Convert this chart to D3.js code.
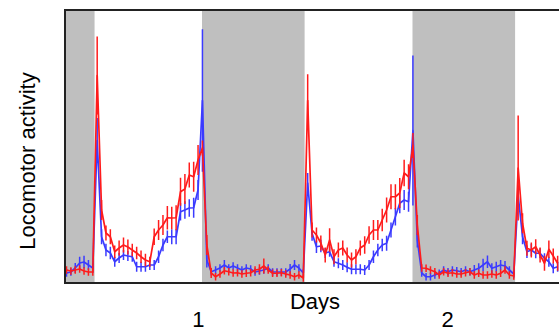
<!DOCTYPE html>
<html>
<head>
<meta charset="utf-8">
<script src="https://cdn.jsdelivr.net/npm/d3@7"></script>
<style>
  body { margin: 0; background: #fff; }
  svg { display: block; }
  text { font-family: "Liberation Sans", Arial, sans-serif; fill: #000; }
</style>
</head>
<body>
<div id="chart"></div>
<script>
// time grid: 30 min bins, first bin centred at -3.25 h (ZT)
var firstBin = -3.25,
    binHours = 0.5;

// dark phases (hours), light off -> light on
var nights = [[-3.42, -0.05], [12.2, 23.9], [36.2, 47.9]];

// day tick labels and where they sit (hours)
var dayLabels = ["1", "2"],
    dayLabelHours = [11.8, 40.2];

// red group, mean activity per bin
var redDark0 = [5.2, 4.8, 5.2, 5.6, 4.8, 4.4, 4.4],
    redLight1 = [83, 29.2, 20, 18.5, 12.5, 14, 15.2, 14.4, 13.2, 12, 10.5, 9.2, 8.5, 18.5, 21.2, 23.2, 26.1, 26, 26.1, 36.5, 37.6, 43.2, 42.5, 49.2],
    redDark1 = [54, 15.2, 4, 2.5, 3.6, 4.9, 4.5, 4, 4.1, 3.6, 3.9, 4.1, 5.2, 5.5, 6.8, 5.2, 3.9, 3.9, 4.1, 3.6, 3.2, 2.5, 3.2, 2],
    redLight2 = [73, 21.2, 19.2, 16, 11.2, 17.2, 10.5, 13.2, 14, 11.2, 9.2, 10.5, 14, 15.2, 19.2, 21.2, 21.2, 25.2, 29.2, 34.5, 34.5, 36, 44, 42.5],
    redDark2 = [55, 23.2, 6, 5.9, 5.2, 4.5, 3.2, 4.5, 3.9, 4.1, 3.6, 3.6, 4.1, 4.5, 3.2, 3.9, 3.2, 3.2, 3.6, 3.2, 3.9, 5.2, 3.2, 2.8],
    redLight3 = [46, 23.9, 13.9, 13.2, 14.5, 11.2, 7.9, 13.5, 10.8, 7.9];

// red group, SEM
var redSemDark0 = [1.5, 1.5, 1.5, 1.5, 1.5, 1.5, 1.5],
    redSemLight1 = [15.6, 4, 3, 3, 2.5, 3, 3, 3, 2.5, 2.5, 2.5, 2.5, 2, 3.3, 4, 4, 4.7, 4.5, 5, 5.6, 6, 5, 6, 6],
    redSemDark1 = [3, 4, 2, 1.5, 1.5, 1.5, 1.5, 1.5, 1.5, 1.5, 1.5, 1.5, 1.5, 2, 3, 1.5, 1.5, 1.5, 1.5, 1.5, 1.5, 1.5, 1.5, 1.5],
    redSemLight2 = [10.5, 3, 3, 3, 3, 4.7, 3, 3, 3, 3, 3, 3, 3, 3.5, 3.5, 4, 4, 4.5, 5, 5, 5, 6, 5.3, 5],
    redSemDark2 = [5, 4, 1.5, 1.5, 1.5, 1.5, 1.5, 1.5, 1.5, 1.5, 1.5, 1.5, 1.5, 1.5, 1.5, 1.5, 1.5, 1.5, 1.5, 1.5, 1.5, 1.5, 1.5, 1.5],
    redSemLight3 = [21, 4, 3, 3, 3, 3, 3, 3.5, 3, 3];

// blue group, mean activity per bin
var blueDark0 = [4, 4.4, 6, 8, 8.4, 7.2, 6],
    blueLight1 = [57, 18.5, 13.2, 12, 8.5, 10, 11.2, 10.8, 10.5, 6.5, 6.5, 6.5, 7.2, 7.2, 10.5, 15.2, 18.5, 18.5, 18.5, 28.5, 29.2, 30, 30.1, 37.2],
    blueDark1 = [73, 9.2, 4.5, 5.2, 6, 7.2, 6, 6.8, 6, 5.2, 6, 5.6, 4.4, 4.8, 5.2, 6, 4.4, 4.4, 4.4, 4.4, 5.6, 7.2, 6, 4],
    blueLight2 = [40, 19.9, 14.5, 14.8, 12, 12.5, 8.5, 7.9, 7.2, 6.3, 5.5, 5.5, 5.5, 5.2, 7.2, 10.5, 13.2, 15.2, 15.9, 21.2, 26.5, 31.9, 33.2, 32.5],
    blueDark2 = [61, 17.2, 4, 2.5, 2.5, 3.2, 3.9, 5.2, 4.5, 5.2, 4.9, 4.5, 5.2, 4.5, 5.2, 5.9, 7.2, 8.5, 5.9, 6.5, 7.2, 6.8, 5.2, 3.6],
    blueLight3 = [35, 18.5, 12.5, 13.2, 11.9, 11.9, 9.9, 8.5, 5.9, 6.5];

// blue group, SEM
var blueSemDark0 = [1.5, 1.5, 2, 2.5, 2.5, 2, 2],
    blueSemLight1 = [9, 3, 2.5, 2.5, 2, 2, 2, 2, 2, 2, 2, 2, 2, 2, 2.5, 2.5, 2.5, 3, 3, 3.5, 3.5, 3.5, 4, 4],
    blueSemDark1 = [28.5, 3, 1.5, 1.5, 1.5, 2, 1.5, 1.5, 1.5, 1.5, 1.5, 1.5, 1.5, 1.5, 1.5, 1.5, 1.5, 1.5, 1.5, 1.5, 2, 2, 1.5, 1.5],
    blueSemLight2 = [4, 3, 2.5, 2.5, 2, 2, 2, 2, 2, 2, 2, 2, 2, 2, 2, 2.5, 2.5, 2.5, 3, 3, 3.5, 4, 4, 4],
    blueSemDark2 = [30, 3, 1.5, 1.5, 1.5, 1.5, 1.5, 1.5, 1.5, 1.5, 1.5, 1.5, 1.5, 1.5, 2, 2, 2.5, 2.5, 2, 2, 2, 2, 1.5, 1.5],
    blueSemLight3 = [4, 3, 2.5, 2.5, 2, 2, 2, 2, 2, 2];

var redMean = [].concat(redDark0, redLight1, redDark1, redLight2, redDark2, redLight3),
    redSem = [].concat(redSemDark0, redSemLight1, redSemDark1, redSemLight2, redSemDark2, redSemLight3),
    blueMean = [].concat(blueDark0, blueLight1, blueDark1, blueLight2, blueDark2, blueLight3),
    blueSem = [].concat(blueSemDark0, blueSemLight1, blueSemDark1, blueSemLight2, blueSemDark2, blueSemLight3);

var width = 559,
    height = 332,
    plot = { left: 65, top: 10, right: 570, bottom: 283 };

var x = d3.scaleLinear().domain([-3.42, 54.16]).range([plot.left, plot.right]),
    y = d3.scaleLinear().domain([0, 110]).range([plot.bottom, plot.top - 2]);

function toPoints(means, sems) {
    return means.map(function (m, i) {
        return { hour: firstBin + i * binHours, mean: m, sem: sems[i] || 0 };
    });
}

var series = [
    { name: "blue", color: "#3b3bff", points: toPoints(blueMean, blueSem) },
    { name: "red", color: "#ff1c1c", points: toPoints(redMean, redSem) }
];

var svg = d3.select("#chart").append("svg")
    .attr("width", width)
    .attr("height", height);

svg.append("clipPath").attr("id", "plotclip")
    .append("rect")
    .attr("x", plot.left)
    .attr("y", plot.top)
    .attr("width", plot.right - plot.left)
    .attr("height", plot.bottom - plot.top);

var g = svg.append("g").attr("clip-path", "url(#plotclip)");

// night shading
g.selectAll(".night")
    .data(nights)
    .enter().append("rect")
    .attr("class", "night")
    .attr("x", function (d) { return x(d[0]); })
    .attr("y", plot.top)
    .attr("width", function (d) { return x(d[1]) - x(d[0]); })
    .attr("height", plot.bottom - plot.top)
    .style("fill", "#bfbfbf");

var line = d3.line()
    .x(function (d) { return x(d.hour); })
    .y(function (d) { return y(d.mean); });

var groups = g.selectAll(".series")
    .data(series)
    .enter().append("g")
    .attr("class", "series");

// error bars
groups.selectAll(".err")
    .data(function (s) { return s.points.map(function (p) { p.color = s.color; return p; }); })
    .enter().append("line")
    .attr("class", "err")
    .attr("x1", function (d) { return x(d.hour); })
    .attr("x2", function (d) { return x(d.hour); })
    .attr("y1", function (d) { return y(d.mean - d.sem); })
    .attr("y2", function (d) { return y(d.mean + d.sem); })
    .style("stroke", function (d) { return d.color; })
    .style("stroke-width", 1.5);

groups.append("path")
    .attr("d", function (s) { return line(s.points); })
    .style("fill", "none")
    .style("stroke", function (s) { return s.color; })
    .style("stroke-width", 1.7)
    .style("stroke-linejoin", "round");

// frame
svg.append("rect")
    .attr("x", plot.left)
    .attr("y", plot.top)
    .attr("width", plot.right - plot.left)
    .attr("height", plot.bottom - plot.top)
    .style("fill", "none")
    .style("stroke", "#222")
    .style("stroke-width", 2);

// labels
svg.append("text")
    .attr("transform", "translate(35,161) rotate(-90)")
    .style("text-anchor", "middle")
    .style("font-size", "22px")
    .text("Locomotor activity");

svg.append("text")
    .attr("x", 315)
    .attr("y", 309)
    .style("text-anchor", "middle")
    .style("font-size", "22px")
    .text("Days");

svg.selectAll(".dayLabel")
    .data(dayLabels)
    .enter().append("text")
    .attr("class", "dayLabel")
    .attr("x", function (d, i) { return x(dayLabelHours[i]); })
    .attr("y", 327)
    .style("text-anchor", "middle")
    .style("font-size", "22px")
    .text(function (d) { return d; });
</script>
</body>
</html>
